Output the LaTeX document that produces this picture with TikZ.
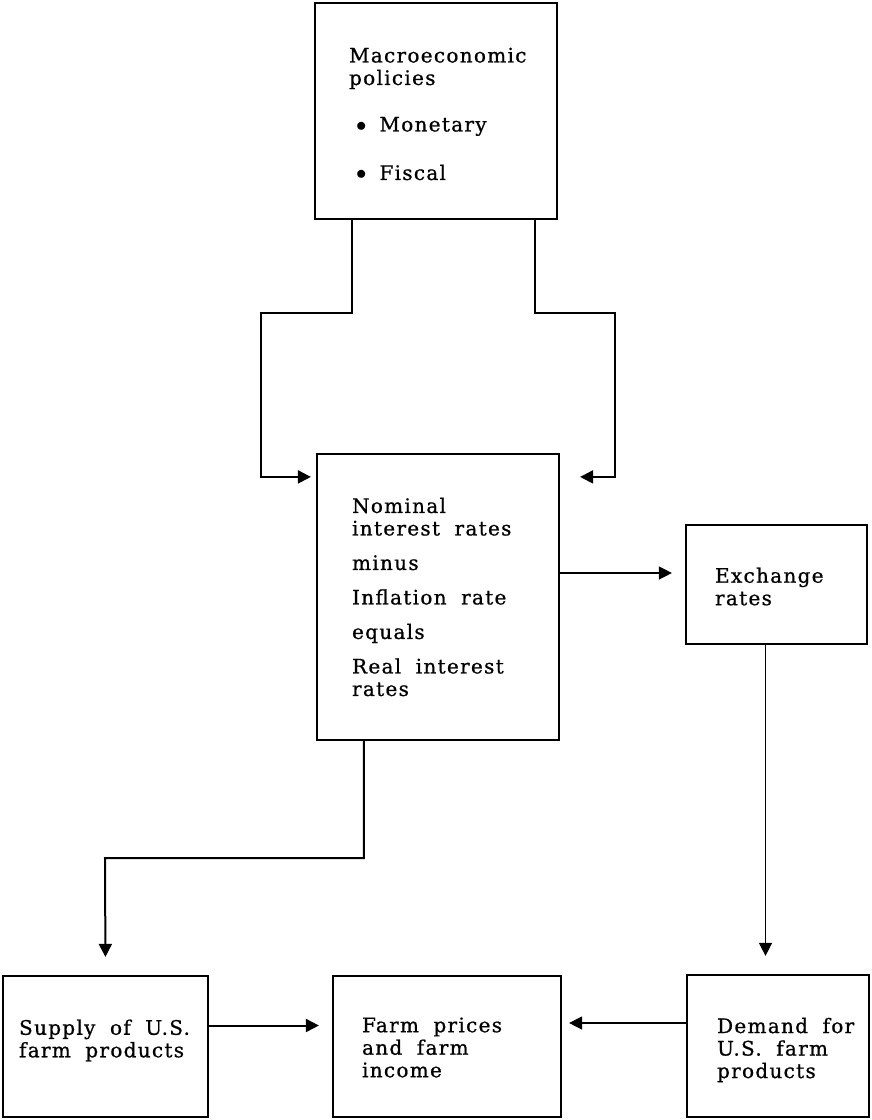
\documentclass[tikz,border=0pt]{standalone}
\usepackage{fontspec}
\setmainfont{DejaVu Serif}[LetterSpace=6.5, WordSpace=1.9, FakeBold=0.8]
\usetikzlibrary{arrows.meta, math}

\tikzset{
  box/.style={draw, line width=2.2pt},
  txt/.style={anchor=west, align=left, inner sep=0pt,
    font=\fontsize{20}{22.5}\selectfont},
  link/.style={line width=2pt, -{Triangle[length=13pt,width=13pt]}},
  thinlink/.style={line width=1.4pt, -{Triangle[length=13pt,width=13pt]}}
}
\newcommand{\blt}{\hspace*{7pt}$\bullet$\hspace{13pt}}

\begin{document}
\begin{tikzpicture}[x=1pt,y=-1pt]
\tikzmath{
\gap=12;
}
\useasboundingbox (0,0) rectangle (871,1120);

% boxes
\node[box, minimum width=242pt, minimum height=216pt] (macro) at (436,111) {};
\node[box, minimum width=242pt, minimum height=286pt] (rates) at (438,597) {};
\node[box, minimum width=181pt, minimum height=119pt] (exch) at (776.5,584.5) {};
\node[box, minimum width=205pt, minimum height=141pt] (supply) at (105.5,1046.5) {};
\node[box, minimum width=228pt, minimum height=141pt] (farm) at (447,1046.5) {};
\node[box, minimum width=182pt, minimum height=142pt] (demand) at (778,1046) {};

% texts
\node[txt] (macro-t) at ([xshift=35pt,yshift=-3pt]macro.west)
  {Macroeconomic\\policies\\[24pt]\blt Monetary\\[26pt]\blt Fiscal};
\node[txt] (rates-t) at ([xshift=36pt,yshift=0pt]rates.west)
  {Nominal\\interest rates\\[\gap pt]minus\\[\gap pt]Inflation rate\\[\gap pt]equals\\[\gap pt]Real interest\\rates};
\node[txt] (exch-t) at ([xshift=30pt,yshift=-2pt]exch.west) {Exchange\\rates};
\node[txt] (supply-t) at ([xshift=17pt,yshift=6pt]supply.west) {Supply of U.S.\\farm products};
\node[txt] (farm-t) at ([xshift=30pt,yshift=-1pt]farm.west) {Farm prices\\and farm\\income};
\node[txt] (demand-t) at ([xshift=31pt,yshift=-4pt]demand.west) {Demand for\\U.S. farm\\products};

\coordinate (bendL) at (261,313);
\coordinate (bendR) at (615,313);
\coordinate (bendS) at (105,858);

% connectors
\draw[link, shorten >=5pt] ([xshift=38pt]macro.south west) |- (bendL) |- ([yshift=-24pt]rates.north west);
\draw[link, shorten >=20pt] ([xshift=-23pt]macro.south east) |- (bendR) |- ([yshift=-24pt]rates.north east);
\draw[thinlink, shorten >=13pt] ([yshift=24pt]rates.east) -- ([yshift=24pt]rates.east -| exch.west);
\draw[link, shorten >=18pt] ([xshift=48pt]rates.south west) |- (bendS) -- (supply.north);
\draw[thinlink, shorten >=18pt] ([xshift=-11pt]exch.south) -- ([xshift=-11pt]exch.south |- demand.north);
\draw[link, shorten >=13pt] ([yshift=21pt]supply.east) -- ([yshift=21pt]supply.east -| farm.west);
\draw[thinlink, shorten >=7pt] ([yshift=23pt]demand.west) -- ([yshift=23pt]demand.west -| farm.east);
\end{tikzpicture}
\end{document}
